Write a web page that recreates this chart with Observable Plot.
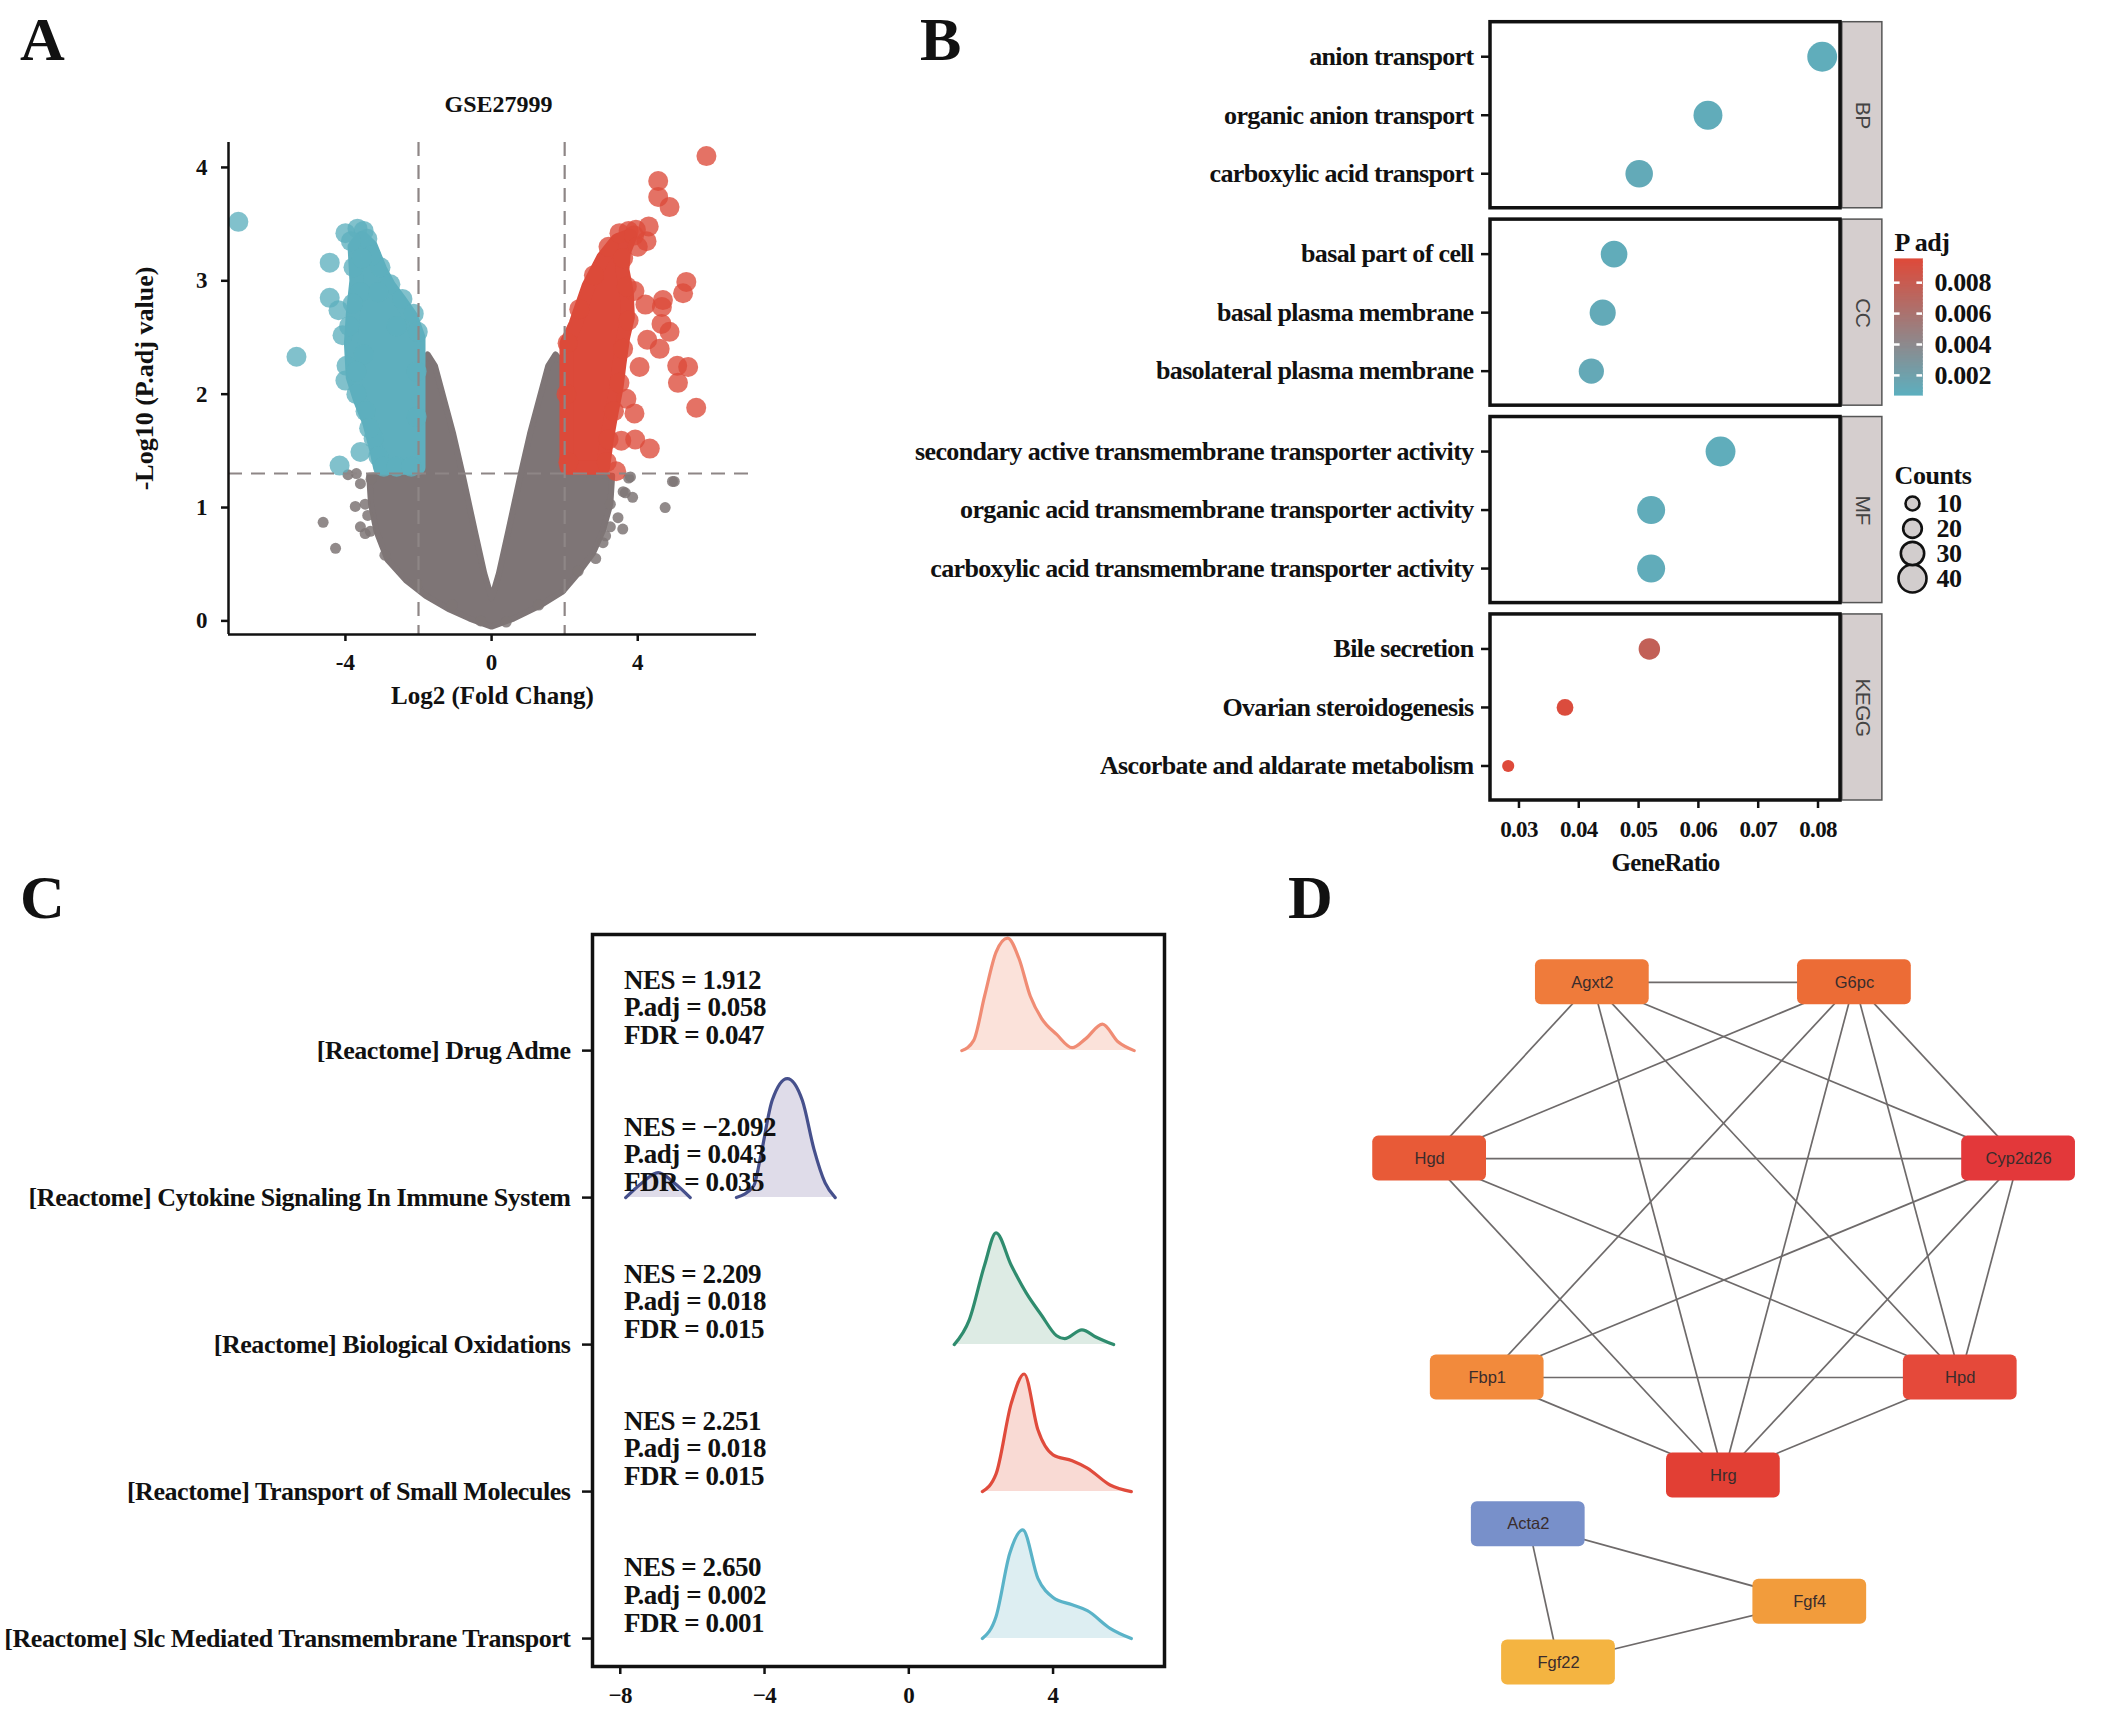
<!DOCTYPE html>
<html><head><meta charset="utf-8">
<script src="https://cdn.jsdelivr.net/npm/d3@7"></script>
<script src="https://cdn.jsdelivr.net/npm/@observablehq/plot@0.6"></script>
<style>
html,body{margin:0;padding:0;background:#fff;}
#root{position:relative;width:2128px;height:1720px;overflow:hidden;background:#fff;}
.letter{position:absolute;font:bold 62px "Liberation Serif","Times New Roman",serif;line-height:1;color:#111;}
</style></head><body><div id="root"></div>
<script>
// ---------------- Panel A: volcano (GSE27999) ----------------
// dense gray cloud outline (log2FC, -log10 p.adj)
const grayCloudX = [0,-0.6,-1.15,-1.8,-2.35,-2.85,-3.15,-3.3,-3.35,-2.0,-2.0,-1.75,-1.55,-1.3,-1.05,-0.8,-0.45,-0.2,0,0.2,0.45,0.8,1.05,1.3,1.55,1.75,2.0,2.0,3.3,3.25,3.05,2.78,2.37,1.95,1.3,0.6];
const grayCloudY = [-0.05,0.02,0.1,0.22,0.36,0.54,0.79,1.03,1.28,1.31,2.25,2.35,2.25,1.95,1.65,1.3,0.78,0.42,0.2,0.42,0.78,1.3,1.65,1.95,2.25,2.35,2.25,1.31,1.28,1.03,0.8,0.6,0.42,0.26,0.13,0.02];
// dense down-regulated cloud outline
const downCloudX = [-2.0,-2.0,-2.2,-2.5,-2.8,-3.05,-3.3,-3.55,-3.75,-3.7,-3.8,-3.85,-3.8,-3.6,-3.35,-3.15,-3.05];
const downCloudY = [1.35,2.5,2.68,2.82,2.95,3.1,3.3,3.38,3.3,3.0,2.7,2.45,2.15,1.95,1.75,1.5,1.35];
// dense up-regulated cloud outline
const upCloudX = [2.05,2.05,2.3,2.65,3.05,3.45,3.8,3.62,3.58,3.7,3.73,3.6,3.5,3.42,3.28,3.15,3.05];
const upCloudY = [1.35,2.45,2.62,2.95,3.2,3.36,3.4,3.25,3.1,2.9,2.68,2.5,2.27,2.06,1.83,1.59,1.35];
// individually visible genes
const grayGenesX = [-4.61,-4.27,-3.93,-3.59,-3.73,-3.46,-3.39,-3.59,-3.46,-3.32,-2.92,-2.03,-1.08,-3.7,-3.3,4.95,4.75,3.8,3.66,3.86,3.25,3.59,3.25,3.05,2.85,2.37,1.29,3.46,3.12,3.75,5.0,3.6,-0.3,0.4];
const grayGenesY = [0.87,0.64,1.29,1.21,1.01,1.03,0.93,0.83,0.77,0.79,0.58,0.32,0.14,1.3,1.25,1.23,1.0,1.27,1.13,1.09,1.03,0.81,0.83,0.69,0.55,0.44,0.14,0.91,0.75,1.26,1.23,1.14,0.0,-0.01];
const downGenesX = [-6.93,-5.34,-4.43,-4.43,-4.19,-4.08,-3.97,-4.0,-3.7,-3.59,-4.16,-3.23,-4.0,-3.67,-3.5,-3.4,-3.78,-3.04,-2.77,-2.44,-2.13,-2.02,-3.6,-3.3,-3.55,-3.8,-3.9,-3.5,-3.7,-3.45,-3.35,-3.1,-2.95,-2.6,-2.2,-2.05,-2.05,-2.6,-3.1,-3.85];
const downGenesY = [3.52,2.33,3.16,2.85,2.74,2.52,2.25,2.12,2.0,1.49,1.37,1.61,3.42,3.46,3.44,3.37,3.12,3.12,2.97,2.84,2.71,2.55,2.9,3.22,3.2,2.8,2.6,2.35,2.2,1.85,1.7,1.45,1.36,1.36,1.36,1.8,2.2,2.6,2.9,3.35];
const upGenesX = [5.88,4.56,4.56,4.87,4.3,4.24,3.75,5.33,5.24,4.69,4.66,4.21,3.91,4.65,4.87,4.26,4.6,4.05,5.08,5.38,5.1,5.6,3.69,3.91,3.55,3.93,4.33,3.41,2.1,2.05,2.08,2.4,2.8,3.2,3.5,3.95,3.6,3.7,3.75,3.6,3.5,3.35,3.2,3.15,3.9,4.0];
const upGenesY = [4.1,3.88,3.74,3.65,3.48,3.35,3.44,2.99,2.89,2.83,2.77,2.79,2.91,2.62,2.55,2.48,2.4,2.24,2.25,2.24,2.1,1.88,1.96,1.83,1.59,1.6,1.52,1.32,1.4,2.0,2.45,2.75,3.05,3.3,3.42,3.45,3.2,2.95,2.65,2.4,2.1,1.85,1.6,1.4,3.4,3.3];
const fcCut = [-2, 2];
const pCut = [1.3];
const volcanoXTicks = [-4, 0, 4];
const volcanoYTicks = [0, 1, 2, 3, 4];

// ---------------- Panel B: enrichment dot plot ----------------
const enrichTerms = ["anion transport","organic anion transport","carboxylic acid transport","basal part of cell","basal plasma membrane","basolateral plasma membrane","secondary active transmembrane transporter activity","organic acid transmembrane transporter activity","carboxylic acid transmembrane transporter activity","Bile secretion","Ovarian steroidogenesis","Ascorbate and aldarate metabolism"];
const enrichCategory = ["BP","BP","BP","CC","CC","CC","MF","MF","MF","KEGG","KEGG","KEGG"];
const enrichRatio = [0.0807,0.0616,0.0501,0.0459,0.0440,0.0421,0.0637,0.0521,0.0521,0.0518,0.0377,0.0282];
const enrichCount = [44,42,39,37,36,34,44,40,40,26,16,6];
const enrichPadj = [0.0009,0.0010,0.0011,0.0010,0.0011,0.0012,0.0009,0.0010,0.0010,0.0076,0.0093,0.0095];
const categoryNames = ["BP","CC","MF","KEGG"];
const ratioTicks = [0.03,0.04,0.05,0.06,0.07,0.08];
const padjTicks = [0.002,0.004,0.006,0.008];
const countTicks = [10,20,30,40];

// ---------------- Panel C: GSEA ridges ----------------
const gseaTerms = ["[Reactome] Drug Adme","[Reactome] Cytokine Signaling In Immune System","[Reactome] Biological Oxidations","[Reactome] Transport of Small Molecules","[Reactome] Slc Mediated Transmembrane Transport"];
const gseaNES = ["1.912","\u22122.092","2.209","2.251","2.650"];
const gseaPadj = ["0.058","0.043","0.018","0.018","0.002"];
const gseaFDR = ["0.047","0.035","0.015","0.015","0.001"];
const ridgeX = [
  [1.47,1.8,2.1,2.42,2.74,3.05,3.37,3.68,4.1,4.53,4.9,5.37,5.8,6.25],
  [-7.85,-7.4,-6.95,-6.5,-6.06,-5.5,-4.78,-4.3,-4.1,-3.79,-3.37,-2.95,-2.63,-2.32,-2.04],
  [1.26,1.68,2.1,2.42,2.84,3.26,3.68,4.1,4.32,4.8,5.2,5.68],
  [2.04,2.42,2.84,3.2,3.58,4.0,4.53,4.95,5.58,6.17],
  [2.04,2.42,2.8,3.16,3.58,4.0,4.53,4.95,5.58,6.17]
];
const ridgeH = [
  [0,0.07,0.37,0.67,0.765,0.63,0.37,0.22,0.11,0.02,0.08,0.18,0.06,0],
  [0,0.1,0.17,0.1,0,NaN,0,0.08,0.29,0.66,0.81,0.66,0.33,0.1,0],
  [0,0.17,0.54,0.76,0.54,0.35,0.2,0.06,0.04,0.1,0.05,0],
  [0,0.12,0.6,0.8,0.42,0.25,0.21,0.16,0.045,0],
  [0,0.15,0.58,0.74,0.41,0.28,0.23,0.19,0.07,0]
];
const ridgeLine = ["#F08C74","#46508C","#2F8C6E","#E04B3C","#5AB3C8"];
const ridgeFill = ["#FBE2DA","#DFDCE9","#DDEBE4","#F9DAD4","#DDEEF2"];
const nesTicks = [-8,-4,0,4];

// ---------------- Panel D: PPI network ----------------
const geneNodes = ["Agxt2","G6pc","Hgd","Cyp2d26","Fbp1","Hpd","Hrg","Acta2","Fgf4","Fgf22"];
const layoutX = [32.2,68.6,9.6,91.4,17.6,83.3,50.4,23.3,62.4,27.5];
const layoutY = [5.5,5.5,28.7,28.7,57.5,57.5,70.4,76.8,87.0,95.0];
const nodeFill = ["#EF7B3B","#EC6C36","#E85A37","#E3383A","#F28A3C","#E5493A","#E23F34","#7890CA","#F29C3C","#F4B441"];
const edgeFrom = ["Agxt2","Agxt2","Agxt2","Agxt2","Agxt2","G6pc","G6pc","G6pc","G6pc","G6pc","Hgd","Hgd","Hgd","Cyp2d26","Cyp2d26","Cyp2d26","Fbp1","Fbp1","Hpd","Acta2","Acta2","Fgf4"];
const edgeTo   = ["G6pc","Hgd","Hrg","Hpd","Cyp2d26","Hgd","Fbp1","Hrg","Hpd","Cyp2d26","Cyp2d26","Hpd","Hrg","Fbp1","Hrg","Hpd","Hpd","Hrg","Hrg","Fgf4","Fgf22","Fgf22"];

// =================================================================
const SERIF = '"Liberation Serif","Times New Roman",serif';
const SANS = '"Liberation Sans",Arial,sans-serif';
const root = document.getElementById("root");
function place(el, left, top) { el.style.position = "absolute"; el.style.left = left + "px"; el.style.top = top + "px"; root.appendChild(el); }
function letter(t, left, top) { const d = document.createElement("div"); d.className = "letter"; d.textContent = t; d.style.left = left + "px"; d.style.top = top + "px"; root.appendChild(d); }
const zip = (xs, ys) => xs.map((x, i) => ({x, y: ys[i]}));

// ---------- A ----------
const GRAY = "#7E7576", BLUE = "#5EAFBE", RED = "#DC4A3A";
const xMinA = -7.2, yMinA = -0.12;
const plotA = Plot.plot({
  width: 800, height: 700,
  marginLeft: 228, marginRight: 44, marginTop: 82, marginBottom: 126,
  x: {domain: [xMinA, 7.25]},
  y: {domain: [yMinA, 4.22]},
  style: {fontFamily: SERIF, fontWeight: "bold", fontSize: "23px", color: "#111", background: "transparent", overflow: "visible"},
  marks: [
    Plot.line(zip(grayCloudX, grayCloudY), {x: "x", y: "y", curve: "linear-closed", fill: GRAY, stroke: GRAY, strokeWidth: 6}),
    Plot.dot(zip(grayGenesX, grayGenesY), {x: "x", y: "y", r: 5.5, fill: GRAY, fillOpacity: 0.85}),
    Plot.line(zip(downCloudX, downCloudY), {x: "x", y: "y", curve: "linear-closed", fill: BLUE, stroke: BLUE, strokeWidth: 14}),
    Plot.dot(zip(downGenesX, downGenesY), {x: "x", y: "y", r: 10, fill: BLUE, fillOpacity: 0.78}),
    Plot.line(zip(upCloudX, upCloudY), {x: "x", y: "y", curve: "linear-closed", fill: RED, stroke: RED, strokeWidth: 14}),
    Plot.dot(zip(upGenesX, upGenesY), {x: "x", y: "y", r: 10, fill: RED, fillOpacity: 0.78}),
    Plot.ruleX(fcCut, {stroke: "#8E8686", strokeWidth: 2.2, strokeDasharray: "14,9"}),
    Plot.ruleY(pCut, {stroke: "#8E8686", strokeWidth: 2.2, strokeDasharray: "14,9"}),
    Plot.ruleX([xMinA], {stroke: "#111", strokeWidth: 2.5}),
    Plot.ruleY([yMinA], {stroke: "#111", strokeWidth: 2.5}),
    Plot.axisX({ticks: volcanoXTicks, tickFormat: d => String(d), tickSize: 7, tickPadding: 12, strokeWidth: 2.5, label: null}),
    Plot.axisY({ticks: volcanoYTicks, tickFormat: d => String(d), tickSize: 7, tickPadding: 14, strokeWidth: 2.5, label: null}),
    Plot.text(["GSE27999"], {frameAnchor: "top", lineAnchor: "middle", dy: -38, dx: 6, fontSize: 24}),
    Plot.text(["Log2 (Fold Chang)"], {frameAnchor: "bottom", lineAnchor: "middle", dy: 61, fontSize: 25}),
    Plot.text(["-Log10 (P.adj value)"], {frameAnchor: "left", textAnchor: "middle", lineAnchor: "middle", dx: -84, dy: -10, rotate: -90, fontSize: 26})
  ]
});
place(plotA, 0, 60);

// ---------- B ----------
const X_MIN_B = 0.02524, X_MAX_B = 0.08376, PANEL_STEP = 3.374, PANEL_H = 3.18;
const enrich = enrichTerms.map((term, i) => {
  const k = categoryNames.indexOf(enrichCategory[i]);
  const j = enrichCategory.slice(0, i).filter(c => c === enrichCategory[i]).length;
  return {term, cat: enrichCategory[i], ratio: enrichRatio[i], count: enrichCount[i], padj: enrichPadj[i], pos: k * PANEL_STEP + 0.59 + j};
});
const panelsB = categoryNames.map((name, k) => ({name, y1: k * PANEL_STEP, y2: k * PANEL_STEP + PANEL_H}));
const posLabel = new Map(enrich.map(d => [d.pos, d.term]));
const colorB = {type: "linear", domain: [0.0007, 0.0095], range: ["#5DAFBE", "#DE4A3A"], interpolate: "rgb"};
const rB = {type: "linear", domain: [10, 40], range: [7, 14]};
const plotB = Plot.plot({
  width: 1040, height: 900,
  marginLeft: 610, marginRight: 80, marginTop: 21.7, marginBottom: 100,
  x: {domain: [X_MIN_B, X_MAX_B]},
  y: {domain: [0, 4 * PANEL_STEP - (PANEL_STEP - PANEL_H)], reverse: true},
  color: colorB, r: rB,
  style: {fontFamily: SERIF, fontWeight: "bold", fontSize: "26px", letterSpacing: "-0.65px", color: "#111", background: "transparent", overflow: "visible"},
  marks: [
    Plot.rect(panelsB, {x1: X_MAX_B + 0.0003, x2: X_MAX_B + 0.0070, y1: "y1", y2: "y2", fill: "#D5CECE", stroke: "#555", strokeWidth: 1.5}),
    Plot.text(panelsB, {x: X_MAX_B + 0.00365, y: d => (d.y1 + d.y2) / 2, text: "name", rotate: 90, fontFamily: SANS, fontWeight: "normal", fontSize: 21, fill: "#444"}),
    Plot.dot(enrich, {x: "ratio", y: "pos", r: "count", fill: "padj"}),
    Plot.rect(panelsB, {x1: X_MIN_B, x2: X_MAX_B, y1: "y1", y2: "y2", fill: "none", stroke: "#111", strokeWidth: 3.5}),
    Plot.axisY({ticks: enrich.map(d => d.pos), tickFormat: d => posLabel.get(d), tickSize: 9, tickPadding: 8, strokeWidth: 2.5, label: null}),
    Plot.axisX({ticks: ratioTicks, tickFormat: d3.format(".2f"), tickSize: 8, tickPadding: 12, strokeWidth: 2.5, fontSize: 23, letterSpacing: "-1.2px", label: null}),
    Plot.text(["GeneRatio"], {frameAnchor: "bottom", lineAnchor: "middle", dy: 62, fontSize: 25})
  ]
});
place(plotB, 880, 0);

// P adj colour bar
const padjSteps = d3.range(0.0007, 0.0095, 0.00005);
const legPadj = Plot.plot({
  width: 130, height: 180, marginLeft: 9, marginRight: 93, marginTop: 34, marginBottom: 10,
  x: {domain: [0, 1], axis: null},
  y: {domain: [0.0007, 0.0095], axis: null},
  color: colorB,
  style: {fontFamily: SERIF, fontWeight: "bold", fontSize: "26px", letterSpacing: "-0.4px", color: "#111", background: "transparent", overflow: "visible"},
  marks: [
    Plot.rect(padjSteps, {x1: 0, x2: 1, y1: d => d, y2: d => d + 0.00006, fill: d => d, stroke: d => d, strokeWidth: 0.6, shapeRendering: "crispEdges"}),
    Plot.ruleY(padjTicks, {x1: 0, x2: 0.2, stroke: "white", strokeWidth: 2.5}),
    Plot.ruleY(padjTicks, {x1: 0.8, x2: 1, stroke: "white", strokeWidth: 2.5}),
    Plot.text(padjTicks, {x: 1, y: d => d, text: d3.format(".3f"), dx: 12, textAnchor: "start", fontSize: 26}),
    Plot.text(["P adj"], {frameAnchor: "top-left", lineAnchor: "middle", dy: -17, dx: 0, textAnchor: "start"})
  ]
});
place(legPadj, 1885, 225);

// Counts legend
const legCount = Plot.plot({
  width: 130, height: 150, marginLeft: 27, marginRight: 103, marginTop: 47, marginBottom: 27,
  x: {domain: [0, 1], axis: null},
  y: {type: "point", domain: countTicks, padding: 0, axis: null},
  r: rB,
  style: {fontFamily: SERIF, fontWeight: "bold", fontSize: "26px", letterSpacing: "-0.4px", color: "#111", background: "transparent", overflow: "visible"},
  marks: [
    Plot.dot(countTicks, {x: 0, y: d => d, r: d => d, fill: "#D2CDCD", stroke: "#111", strokeWidth: 2.6}),
    Plot.text(countTicks, {x: 0, y: d => d, text: d => String(d), dx: 24, textAnchor: "start", fontSize: 26}),
    Plot.text(["Counts"], {frameAnchor: "top-left", lineAnchor: "middle", dx: -18, dy: -27, textAnchor: "start"})
  ]
});
place(legCount, 1885, 455);

// ---------- C ----------
const ridges = [];
ridgeX.forEach((xs, i) => xs.forEach((x, j) => {
  const row = gseaTerms.length - 1 - i, h = ridgeH[i][j];
  ridges.push({term: gseaTerms[i], idx: i, row, x: isNaN(h) ? NaN : x, base: row, top: row + h});
}));
const gseaRows = gseaTerms.map((t, i) => ({row: gseaTerms.length - 1 - i, label: `NES = ${gseaNES[i]}\nP.adj = ${gseaPadj[i]}\nFDR = ${gseaFDR[i]}`}));
const rowName = new Map(gseaTerms.map((t, i) => [gseaTerms.length - 1 - i, t]));
const ridgeMarks = [];
gseaTerms.forEach((t, i) => {
  const data = ridges.filter(d => d.idx === i);
  ridgeMarks.push(Plot.areaY(data, {x: "x", y1: "base", y2: "top", fill: ridgeFill[i], curve: "monotone-x"}));
  ridgeMarks.push(Plot.line(data, {x: "x", y: "top", stroke: ridgeLine[i], strokeWidth: 3.2, curve: "monotone-x"}));
});
const plotC = Plot.plot({
  width: 1200, height: 820,
  marginLeft: 592, marginRight: 36, marginTop: 34, marginBottom: 54,
  x: {domain: [-8.77, 7.09]},
  y: {domain: [-0.19, 4.79]},
  style: {fontFamily: SERIF, fontWeight: "bold", fontSize: "26px", letterSpacing: "-0.45px", color: "#111", background: "transparent", overflow: "visible"},
  marks: [
    ...ridgeMarks,
    Plot.text(gseaRows, {x: -7.9, y: "row", text: "label", textAnchor: "start", lineAnchor: "bottom", dy: -7, lineHeight: 1.02, fontSize: 27, letterSpacing: "-1px"}),
    Plot.frame({stroke: "#111", strokeWidth: 3.5}),
    Plot.axisY({ticks: [0, 1, 2, 3, 4], tickFormat: d => rowName.get(d), tickSize: 10, tickPadding: 12, strokeWidth: 2.5, label: null}),
    Plot.axisX({ticks: nesTicks, tickSize: 8, tickPadding: 12, strokeWidth: 2.5, fontSize: 23, label: null})
  ]
});
place(plotC, 0, 900);

// ---------- D ----------
const nodes = geneNodes.map((g, i) => ({g, x: layoutX[i], y: layoutY[i], fill: nodeFill[i]}));
const nodeBy = new Map(nodes.map(n => [n.g, n]));
const edges = edgeFrom.map((a, i) => ({a: nodeBy.get(a), b: nodeBy.get(edgeTo[i])}));
const HW = 7.9, HH = 2.96;
const plotD = Plot.plot({
  width: 720, height: 760, margin: 0,
  x: {domain: [0, 100], axis: null},
  y: {domain: [0, 100], reverse: true, axis: null},
  style: {fontFamily: SANS, fontSize: "16px", background: "transparent", overflow: "visible"},
  marks: [
    Plot.link(edges, {x1: d => d.a.x, y1: d => d.a.y, x2: d => d.b.x, y2: d => d.b.y, stroke: "#6E6A6A", strokeWidth: 1.7}),
    Plot.rect(nodes, {x1: d => d.x - HW, x2: d => d.x + HW, y1: d => d.y - HH, y2: d => d.y + HH, fill: "fill", rx: 6}),
    Plot.text(nodes, {x: "x", y: "y", text: "g", fill: "#3A2C2C", fontSize: 16.5})
  ]
});
place(plotD, 1360, 940);

letter("A", 20, 8);
letter("B", 920, 8);
letter("C", 20, 866);
letter("D", 1288, 866);
</script>
</body></html>
